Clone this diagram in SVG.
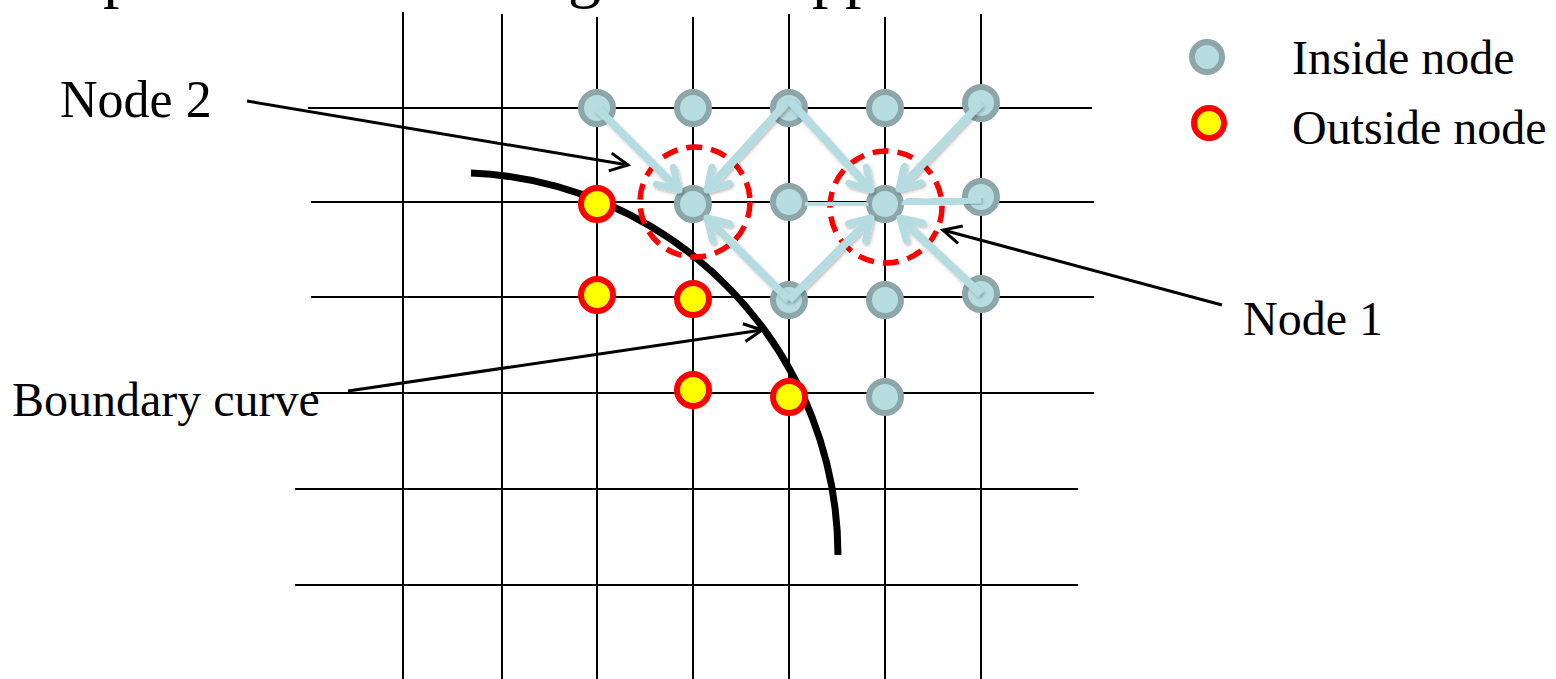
<svg xmlns="http://www.w3.org/2000/svg" width="1556" height="679" viewBox="0 0 1556 679">
<style>
.grid{stroke:#000;stroke-width:2;fill:none}
.lbl{font-family:"Liberation Serif","Times New Roman",serif;font-size:48px;fill:#000}
.top{font-family:"Liberation Serif","Times New Roman",serif;font-size:66px;fill:#000}
.in{fill:#B7DDE0;stroke:#8CA6A9;stroke-width:6}
.out{fill:#FFFF00;stroke:#FF0000;stroke-width:6}
.ring{fill:none;stroke:#FF0000;stroke-width:5.5;stroke-dasharray:16 9}
.arr{stroke:#B5DCE0;stroke-width:8;fill:none;marker-end:url(#bh);filter:url(#sh)}
.lead{stroke:#000;stroke-width:3;fill:none;marker-end:url(#kh)}
</style>
<defs>
<filter id="sh" x="-20%" y="-20%" width="140%" height="140%">
<feDropShadow dx="1.5" dy="2" stdDeviation="1.5" flood-color="#000" flood-opacity="0.25"/>
</filter>
<marker id="bh" viewBox="0 0 30 30" refX="25" refY="15" markerWidth="30" markerHeight="30" markerUnits="userSpaceOnUse" orient="auto">
<path d="M5,3 L25,15 L5,27" fill="none" stroke="#B5DCE0" stroke-width="7" stroke-linecap="round" stroke-linejoin="round"/>
</marker>
<marker id="kh" viewBox="0 0 26 26" refX="23" refY="13" markerWidth="26" markerHeight="26" markerUnits="userSpaceOnUse" orient="auto">
<path d="M5,4 L23,13 L5,22" fill="none" stroke="#000" stroke-width="3"/>
</marker>
</defs>

<g id="title-fragments">
<text class="top" x="103" y="-5">p</text>
<text class="top" x="568" y="-5">g</text>
<text class="top" x="812" y="-5">pp</text>
</g>

<g id="grid">
<line class="grid" x1="403" y1="12" x2="403" y2="679"/>
<line class="grid" x1="502" y1="14" x2="502" y2="679"/>
<line class="grid" x1="597" y1="17" x2="597" y2="679"/>
<line class="grid" x1="693" y1="17" x2="693" y2="679"/>
<line class="grid" x1="789" y1="14" x2="789" y2="679"/>
<line class="grid" x1="885" y1="17" x2="885" y2="679"/>
<line class="grid" x1="981" y1="14" x2="981" y2="679"/>
<line class="grid" x1="308" y1="108" x2="1092" y2="108"/>
<line class="grid" x1="311" y1="202" x2="1094" y2="202"/>
<line class="grid" x1="311" y1="297" x2="1094" y2="297"/>
<line class="grid" x1="311" y1="393" x2="1094" y2="393"/>
<line class="grid" x1="295" y1="489" x2="1078" y2="489"/>
<line class="grid" x1="295" y1="585" x2="1078" y2="585"/>
</g>

<g id="boundary-curve">
<path d="M471,173 A383,383 0 0 1 838,555" fill="none" stroke="#000" stroke-width="7"/>
</g>

<g id="rings">
<circle class="ring" cx="695" cy="202" r="55"/>
<circle class="ring" cx="886" cy="207" r="56"/>
</g>

<g id="nodes">
<g id="in-597-108"><circle class="in" cx="597" cy="108" r="16"/></g>
<g id="in-693-108"><circle class="in" cx="693" cy="108" r="16"/></g>
<g id="in-789-108"><circle class="in" cx="789" cy="108" r="16"/></g>
<g id="in-885-108"><circle class="in" cx="885" cy="108" r="16"/></g>
<g id="in-981-103"><circle class="in" cx="981" cy="103" r="16"/></g>
<g id="node2"><circle class="in" cx="693" cy="204" r="16"/></g>
<g id="in-789-202"><circle class="in" cx="789" cy="202" r="16"/></g>
<g id="node1"><circle class="in" cx="885" cy="204" r="16"/></g>
<g id="in-981-197"><circle class="in" cx="981" cy="197" r="16"/></g>
<g id="in-789-300"><circle class="in" cx="789" cy="300" r="16"/></g>
<g id="in-885-300"><circle class="in" cx="885" cy="300" r="16"/></g>
<g id="in-981-294"><circle class="in" cx="981" cy="294" r="16"/></g>
<g id="in-885-397"><circle class="in" cx="885" cy="397" r="16"/></g>
<g id="out-597-204"><circle class="out" cx="597" cy="204" r="16"/></g>
<g id="out-597-295"><circle class="out" cx="597" cy="295" r="16"/></g>
<g id="out-693-299"><circle class="out" cx="693" cy="299" r="16"/></g>
<g id="out-693-390"><circle class="out" cx="693" cy="390" r="16"/></g>
<g id="out-789-397"><circle class="out" cx="789" cy="397" r="16"/></g>
</g>

<g id="connectors">
<line class="arr" x1="597" y1="108" x2="679" y2="190"/>
<line class="arr" x1="693" y1="100" x2="693" y2="184"/>
<line class="arr" x1="789" y1="100" x2="707" y2="190"/>
<line class="arr" x1="789" y1="300" x2="707" y2="218"/>
<line class="arr" x1="789" y1="100" x2="871" y2="190"/>
<line class="arr" x1="885" y1="100" x2="885" y2="184"/>
<line class="arr" x1="981" y1="103" x2="899" y2="189"/>
<line class="arr" x1="805" y1="203" x2="865" y2="205"/>
<line class="arr" x1="981" y1="199" x2="905" y2="204"/>
<line class="arr" x1="789" y1="300" x2="871" y2="218"/>
<line class="arr" x1="885" y1="300" x2="885" y2="224"/>
<line class="arr" x1="981" y1="294" x2="900" y2="218"/>
<line class="lead" x1="247" y1="101" x2="628" y2="165"/>
<line class="lead" x1="1222" y1="305" x2="943" y2="230"/>
<line class="lead" x1="348" y1="391" x2="762" y2="330"/>
</g>

<g id="labels">
<text class="lbl" x="60" y="117" style="font-size:52px">Node 2</text>
<text class="lbl" x="1243" y="335">Node 1</text>
<text class="lbl" x="12" y="416">Boundary curve</text>
</g>

<g id="legend">
<circle class="in" cx="1207" cy="57" r="15"/>
<text class="lbl" x="1292" y="74">Inside node</text>
<circle class="out" cx="1209" cy="123" r="15"/>
<text class="lbl" x="1292" y="144">Outside node</text>
</g>
</svg>
